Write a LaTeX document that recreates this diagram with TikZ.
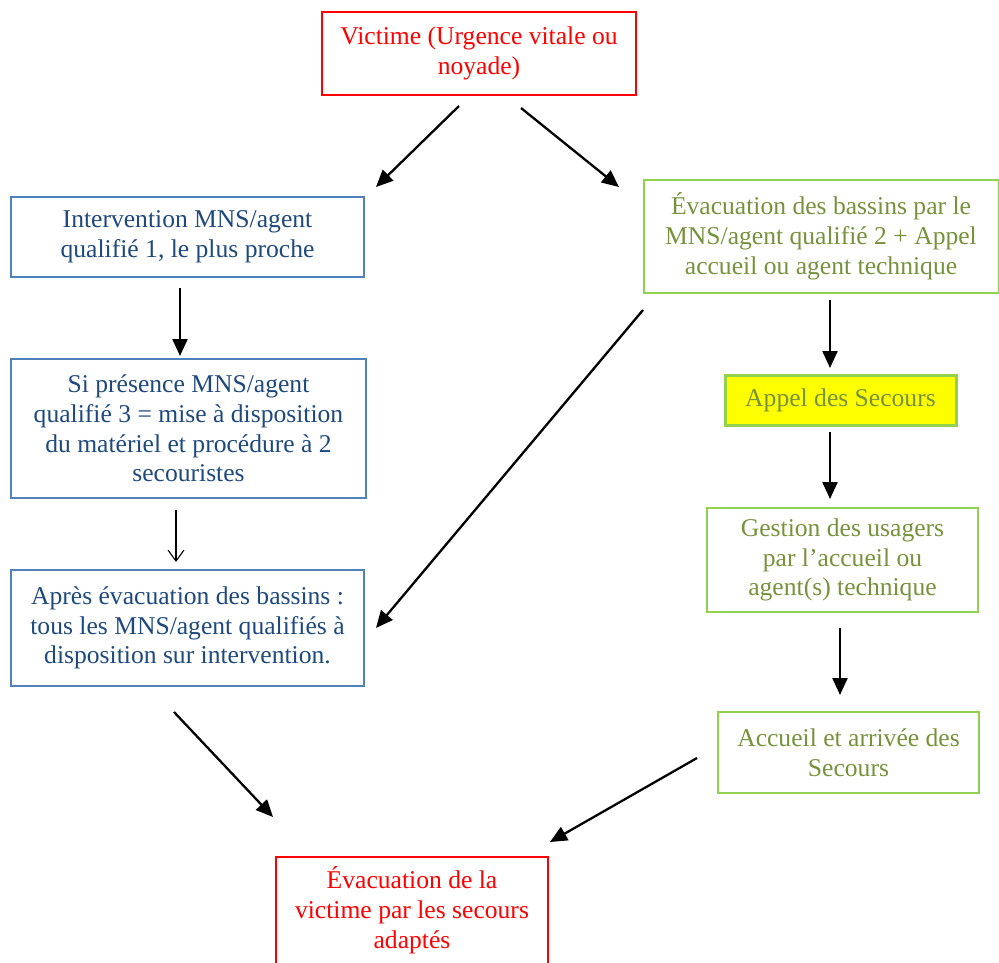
\documentclass[tikz,border=0pt]{standalone}
\usepackage{fontspec}
\setmainfont{Liberation Serif}
\usetikzlibrary{arrows.meta}
\definecolor{vred}{HTML}{FF0000}
\definecolor{bborder}{HTML}{4F81BD}
\definecolor{btext}{HTML}{1F497D}
\definecolor{gborder}{HTML}{92D050}
\definecolor{gtext}{HTML}{76923C}
\definecolor{yfill}{HTML}{FFFF00}
\tikzset{
  boxfont/.style={font=\fontsize{25.6}{29.8}\selectfont},
  box/.style={draw, line width=2pt, rectangle, inner sep=0pt, align=center, boxfont},
  redbox/.style={box, draw=vred, text=vred},
  bluebox/.style={box, draw=bborder, text=btext},
  greenbox/.style={box, draw=gborder, text=gtext},
  yellowbox/.style={box, draw=gborder, text=gtext, fill=yfill, line width=3pt},
  arr/.style={draw=black, line width=2.3pt, -{Triangle[length=17pt,width=15pt]}},
  thinarr/.style={draw=black, line width=1.1pt, -{Straight Barb[length=11pt,width=16pt,line width=1.1pt]}},
}
\begin{document}
\begin{tikzpicture}[x=1pt,y=-1pt]
\useasboundingbox (0,0) rectangle (999,963);
\node[redbox, minimum width=314, minimum height=83] (victime) at (479,53.5) {Victime (Urgence vitale ou\\noyade)};
\node[bluebox, minimum width=353, minimum height=80] (interv) at (187.5,237) {Intervention MNS/agent\\qualifié 1, le plus proche};
\node[greenbox, minimum width=355, minimum height=113] (evacb) at (821,236.5) {Évacuation des bassins par le\\MNS/agent qualifié 2 + Appel\\accueil ou agent technique};
\node[bluebox, minimum width=355, minimum height=139] (presence) at (188.5,428.5) {Si présence MNS/agent\\qualifié 3 = mise à disposition\\du matériel et procédure à 2\\secouristes};
\node[yellowbox, minimum width=231, minimum height=50] (appel) at (840.5,400) {Appel des Secours};
\node[greenbox, minimum width=271, minimum height=104] (gestion) at (842.5,560) {Gestion des usagers\\par l’accueil ou\\agent(s) technique};
\node[bluebox, minimum width=353, minimum height=116] (apres) at (187.5,628) {Après évacuation des bassins :\\tous les MNS/agent qualifiés à\\disposition sur intervention.};
\node[greenbox, minimum width=261, minimum height=81] (accueil) at (848.5,752.5) {Accueil et arrivée des\\Secours};
\node[redbox, minimum width=272, minimum height=126] (evacv) at (412,920) {};
\node[text=vred, align=center, boxfont, inner sep=0pt] (evacvtxt) at (412,910) {Évacuation de la\\victime par les secours\\adaptés};

\coordinate (a1s) at (459,106); \coordinate (a1e) at (376,187);
\coordinate (a2s) at (521,108); \coordinate (a2e) at (619,187);
\coordinate (a3s) at (180,288); \coordinate (a3e) at (180,356);
\coordinate (a4s) at (176,510); \coordinate (a4e) at (176,562);
\coordinate (a5s) at (643,310); \coordinate (a5e) at (376,628);
\coordinate (a6s) at (830,300); \coordinate (a6e) at (830,368);
\coordinate (a7s) at (830,432); \coordinate (a7e) at (830,499);
\coordinate (a8s) at (840,628); \coordinate (a8e) at (840,695);
\coordinate (a9s) at (174,712); \coordinate (a9e) at (273,817);
\coordinate (a10s) at (697,758); \coordinate (a10e) at (550,842);

\draw[arr] (a1s) -- (a1e);
\draw[arr] (a2s) -- (a2e);
\draw[arr] (a3s) -- (a3e);
\draw[thinarr] (a4s) -- (a4e);
\draw[arr] (a5s) -- (a5e);
\draw[arr] (a6s) -- (a6e);
\draw[arr] (a7s) -- (a7e);
\draw[arr] (a8s) -- (a8e);
\draw[arr] (a9s) -- (a9e);
\draw[arr] (a10s) -- (a10e);
\end{tikzpicture}
\end{document}
